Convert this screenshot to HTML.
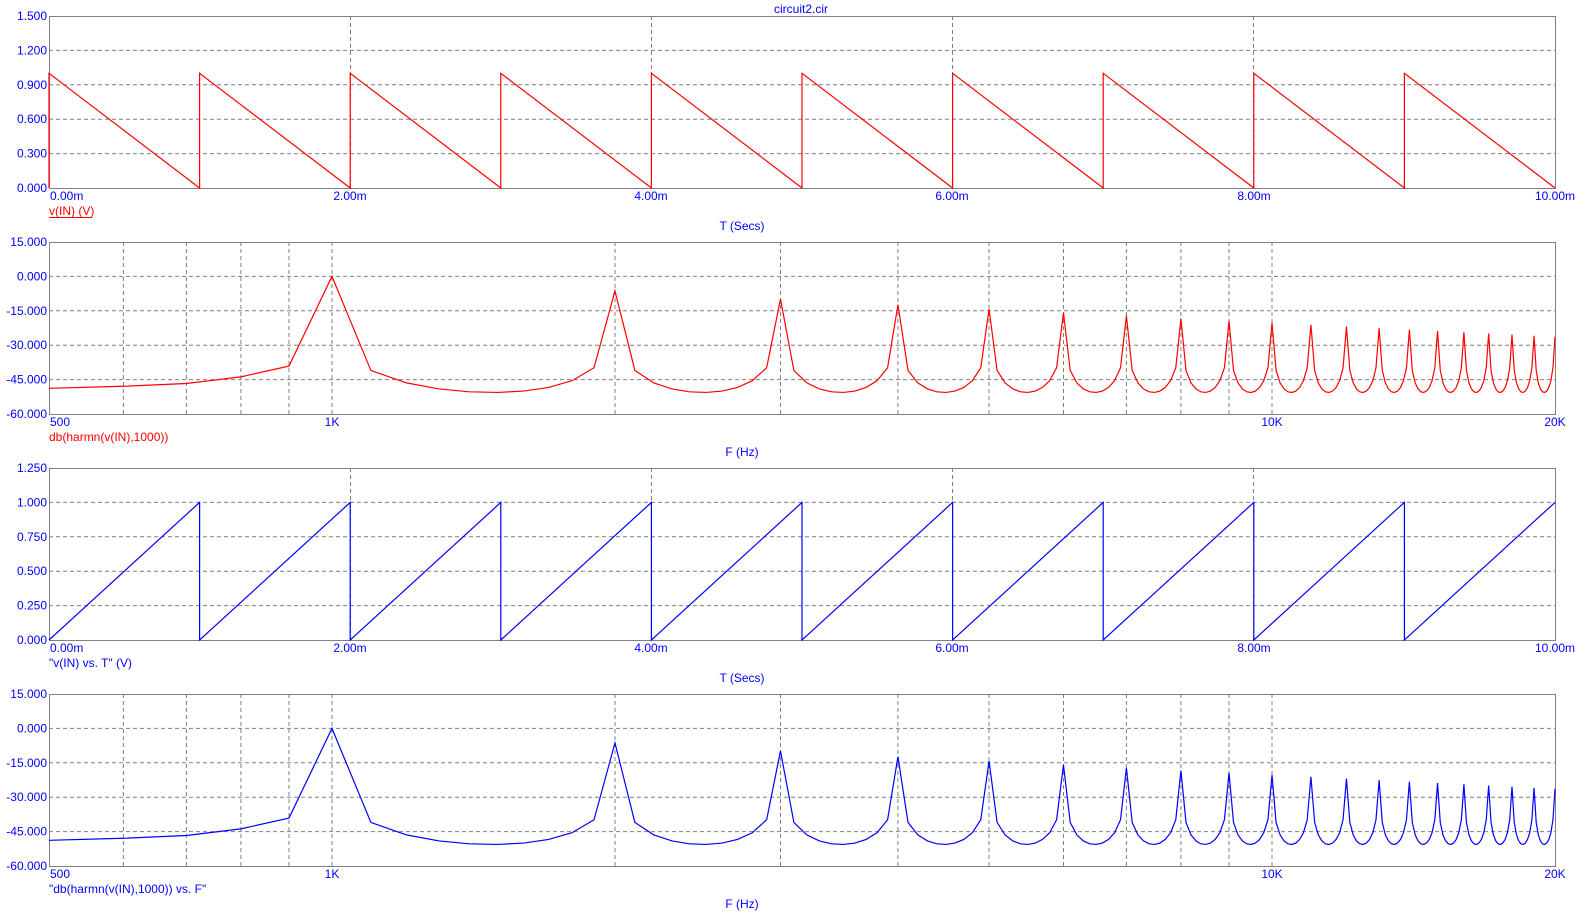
<!DOCTYPE html>
<html>
<head>
<meta charset="utf-8">
<style>
  html,body{margin:0;padding:0;background:#fff;}
  svg{display:block;}
  text{font-family:"Liberation Sans",Arial,sans-serif;font-size:12px;}
  .yl{fill:#0000ff;text-anchor:end;}
  .xl{fill:#0000ff;text-anchor:middle;}
  .xs{fill:#0000ff;text-anchor:start;}
  .grid{stroke:#808080;stroke-width:1;stroke-dasharray:4 3;fill:none;}
  .frame{stroke:#808080;stroke-width:1;fill:none;}
</style>
</head>
<body>
<svg id="s" width="1587" height="917" viewBox="0 0 1587 917" xmlns="http://www.w3.org/2000/svg">
<rect width="1587" height="917" fill="#fff"/>

<text x="801" y="13" class="xl">circuit2.cir</text>

<!-- ===== Plot 1 ===== -->
<g class="grid">
  <line x1="49" y1="50.4" x2="1555" y2="50.4"/>
  <line x1="49" y1="84.8" x2="1555" y2="84.8"/>
  <line x1="49" y1="119.2" x2="1555" y2="119.2"/>
  <line x1="49" y1="153.6" x2="1555" y2="153.6"/>
  <line x1="350.5" y1="16" x2="350.5" y2="188"/>
  <line x1="651.5" y1="16" x2="651.5" y2="188"/>
  <line x1="952.5" y1="16" x2="952.5" y2="188"/>
  <line x1="1253.5" y1="16" x2="1253.5" y2="188"/>
</g>
<rect class="frame" x="49.5" y="16.5" width="1506" height="172"/>
<text x="47" y="20" class="yl">1.500</text>
<text x="47" y="54.4" class="yl">1.200</text>
<text x="47" y="88.8" class="yl">0.900</text>
<text x="47" y="123.2" class="yl">0.600</text>
<text x="47" y="157.6" class="yl">0.300</text>
<text x="47" y="192" class="yl">0.000</text>
<text x="50" y="200" class="xs">0.00m</text>
<text x="350" y="200" class="xl">2.00m</text>
<text x="651" y="200" class="xl">4.00m</text>
<text x="952" y="200" class="xl">6.00m</text>
<text x="1254" y="200" class="xl">8.00m</text>
<text x="1555" y="200" class="xl">10.00m</text>
<text x="49" y="215" fill="#ff0000">v(IN) (V)</text>
<line x1="49" y1="217.5" x2="92" y2="217.5" stroke="#ff0000" stroke-width="1"/>
<text x="742" y="230" class="xl">T (Secs)</text>
<path fill="none" stroke="#ff0000" stroke-width="1.2" d="M49,188 L49,73.3 L199.6,188 L199.6,73.3 L350.2,188 L350.2,73.3 L500.8,188 L500.8,73.3 L651.4,188 L651.4,73.3 L802,188 L802,73.3 L952.6,188 L952.6,73.3 L1103.2,188 L1103.2,73.3 L1253.8,188 L1253.8,73.3 L1404.4,188 L1404.4,73.3 L1555,188"/>

<!-- ===== Plot 2 ===== -->
<g class="grid">
  <line x1="49" y1="276.4" x2="1555" y2="276.4"/>
  <line x1="49" y1="310.8" x2="1555" y2="310.8"/>
  <line x1="49" y1="345.2" x2="1555" y2="345.2"/>
  <line x1="49" y1="379.6" x2="1555" y2="379.6"/>
  <line x1="123.4" y1="242" x2="123.4" y2="414"/>
  <line x1="186.4" y1="242" x2="186.4" y2="414"/>
  <line x1="240.9" y1="242" x2="240.9" y2="414"/>
  <line x1="289" y1="242" x2="289" y2="414"/>
  <line x1="332" y1="242" x2="332" y2="414"/>
  <line x1="615" y1="242" x2="615" y2="414"/>
  <line x1="780.5" y1="242" x2="780.5" y2="414"/>
  <line x1="897.9" y1="242" x2="897.9" y2="414"/>
  <line x1="989" y1="242" x2="989" y2="414"/>
  <line x1="1063.5" y1="242" x2="1063.5" y2="414"/>
  <line x1="1126.4" y1="242" x2="1126.4" y2="414"/>
  <line x1="1180.9" y1="242" x2="1180.9" y2="414"/>
  <line x1="1229" y1="242" x2="1229" y2="414"/>
  <line x1="1272" y1="242" x2="1272" y2="414"/>
</g>
<rect class="frame" x="49.5" y="242.5" width="1506" height="172"/>
<text x="47" y="246" class="yl">15.000</text>
<text x="47" y="280.4" class="yl">0.000</text>
<text x="47" y="314.8" class="yl">-15.000</text>
<text x="47" y="349.2" class="yl">-30.000</text>
<text x="47" y="383.6" class="yl">-45.000</text>
<text x="47" y="418" class="yl">-60.000</text>
<text x="50" y="426" class="xs">500</text>
<text x="332" y="426" class="xl">1K</text>
<text x="1272" y="426" class="xl">10K</text>
<text x="1555" y="426" class="xl">20K</text>
<text x="49" y="441" fill="#ff0000">db(harmn(v(IN),1000))</text>
<text x="742" y="456" class="xl">F (Hz)</text>
<path id="spec1" fill="none" stroke="#ff0000" stroke-width="1.2" d=""/>

<!-- ===== Plot 3 ===== -->
<g class="grid">
  <line x1="49" y1="502.4" x2="1555" y2="502.4"/>
  <line x1="49" y1="536.8" x2="1555" y2="536.8"/>
  <line x1="49" y1="571.2" x2="1555" y2="571.2"/>
  <line x1="49" y1="605.6" x2="1555" y2="605.6"/>
  <line x1="350.5" y1="468" x2="350.5" y2="640"/>
  <line x1="651.5" y1="468" x2="651.5" y2="640"/>
  <line x1="952.5" y1="468" x2="952.5" y2="640"/>
  <line x1="1253.5" y1="468" x2="1253.5" y2="640"/>
</g>
<rect class="frame" x="49.5" y="468.5" width="1506" height="172"/>
<text x="47" y="472" class="yl">1.250</text>
<text x="47" y="506.4" class="yl">1.000</text>
<text x="47" y="540.8" class="yl">0.750</text>
<text x="47" y="575.2" class="yl">0.500</text>
<text x="47" y="609.6" class="yl">0.250</text>
<text x="47" y="644" class="yl">0.000</text>
<text x="50" y="652" class="xs">0.00m</text>
<text x="350" y="652" class="xl">2.00m</text>
<text x="651" y="652" class="xl">4.00m</text>
<text x="952" y="652" class="xl">6.00m</text>
<text x="1254" y="652" class="xl">8.00m</text>
<text x="1555" y="652" class="xl">10.00m</text>
<text x="49" y="667" fill="#0000ff">"v(IN) vs. T" (V)</text>
<text x="742" y="682" class="xl">T (Secs)</text>
<path fill="none" stroke="#0000ff" stroke-width="1.2" d="M49,640 L199.6,502.4 L199.6,640 L350.2,502.4 L350.2,640 L500.8,502.4 L500.8,640 L651.4,502.4 L651.4,640 L802,502.4 L802,640 L952.6,502.4 L952.6,640 L1103.2,502.4 L1103.2,640 L1253.8,502.4 L1253.8,640 L1404.4,502.4 L1404.4,640 L1555,502.4"/>

<!-- ===== Plot 4 ===== -->
<g class="grid">
  <line x1="49" y1="728.4" x2="1555" y2="728.4"/>
  <line x1="49" y1="762.8" x2="1555" y2="762.8"/>
  <line x1="49" y1="797.2" x2="1555" y2="797.2"/>
  <line x1="49" y1="831.6" x2="1555" y2="831.6"/>
  <line x1="123.4" y1="694" x2="123.4" y2="866"/>
  <line x1="186.4" y1="694" x2="186.4" y2="866"/>
  <line x1="240.9" y1="694" x2="240.9" y2="866"/>
  <line x1="289" y1="694" x2="289" y2="866"/>
  <line x1="332" y1="694" x2="332" y2="866"/>
  <line x1="615" y1="694" x2="615" y2="866"/>
  <line x1="780.5" y1="694" x2="780.5" y2="866"/>
  <line x1="897.9" y1="694" x2="897.9" y2="866"/>
  <line x1="989" y1="694" x2="989" y2="866"/>
  <line x1="1063.5" y1="694" x2="1063.5" y2="866"/>
  <line x1="1126.4" y1="694" x2="1126.4" y2="866"/>
  <line x1="1180.9" y1="694" x2="1180.9" y2="866"/>
  <line x1="1229" y1="694" x2="1229" y2="866"/>
  <line x1="1272" y1="694" x2="1272" y2="866"/>
</g>
<rect class="frame" x="49.5" y="694.5" width="1506" height="172"/>
<text x="47" y="698" class="yl">15.000</text>
<text x="47" y="732.4" class="yl">0.000</text>
<text x="47" y="766.8" class="yl">-15.000</text>
<text x="47" y="801.2" class="yl">-30.000</text>
<text x="47" y="835.6" class="yl">-45.000</text>
<text x="47" y="870" class="yl">-60.000</text>
<text x="50" y="878" class="xs">500</text>
<text x="332" y="878" class="xl">1K</text>
<text x="1272" y="878" class="xl">10K</text>
<text x="1555" y="878" class="xl">20K</text>
<text x="49" y="893" fill="#0000ff">"db(harmn(v(IN),1000)) vs. F"</text>
<text x="742" y="908" class="xl">F (Hz)</text>
<path id="spec2" fill="none" stroke="#0000ff" stroke-width="1.2" d=""/>
</svg>

<script>
(function(){
  var tbl = {500:-48.8,600:-47.9,700:-46.7,800:-43.8,900:-39.1};
  function db(f){
    if (f < 1000) return tbl[f];
    if (f % 1000 === 0){
      var n = f/1000;
      return n === 1 ? 0 : -20*Math.log10(n) - 0.3;
    }
    var m = Math.floor(f/1000);
    var u = (f - 1000*m)/1000;
    var A = 0.000855/u + 0.001001/(1-u) - 0.000762;
    return 20*Math.log10(A);
  }
  function xf(f){ return 49 + 1506*Math.log10(f/500)/Math.log10(40); }
  function build(top){
    var d = '';
    for (var f = 500; f <= 20000; f += 100){
      var v = db(f);
      var y = top + (15 - v)/75*172;
      d += (f === 500 ? 'M' : 'L') + xf(f).toFixed(2) + ',' + y.toFixed(2) + ' ';
    }
    return d;
  }
  document.getElementById('spec1').setAttribute('d', build(242));
  document.getElementById('spec2').setAttribute('d', build(694));
})();
</script>
</body>
</html>
